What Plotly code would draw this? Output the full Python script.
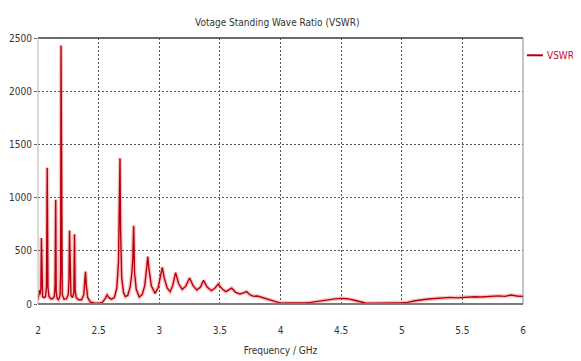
import plotly.graph_objects as go

# Frequency (GHz) and VSWR values
freq_ghz = [
    2.000, 2.008, 2.013, 2.018, 2.024, 2.028, 2.032, 2.038, 2.050, 2.062,
    2.070, 2.076, 2.082, 2.090, 2.105, 2.120, 2.135, 2.141, 2.146, 2.150,
    2.158, 2.170, 2.182, 2.187, 2.190, 2.194, 2.200, 2.215, 2.235, 2.250,
    2.256, 2.260, 2.265, 2.272, 2.285, 2.296, 2.301, 2.306, 2.315, 2.335,
    2.360, 2.378, 2.387, 2.392, 2.398, 2.410, 2.430, 2.460, 2.500, 2.530,
    2.555, 2.570, 2.585, 2.605, 2.630, 2.650, 2.664, 2.672, 2.676, 2.681,
    2.690, 2.705, 2.720, 2.740, 2.760, 2.775, 2.782, 2.789, 2.796, 2.810,
    2.835, 2.860, 2.880, 2.895, 2.905, 2.915, 2.935, 2.965, 2.990, 3.010,
    3.025, 3.040, 3.065, 3.090, 3.110, 3.135, 3.160, 3.190, 3.220, 3.250,
    3.280, 3.310, 3.340, 3.365, 3.395, 3.430, 3.460, 3.487, 3.520, 3.550,
    3.575, 3.597, 3.630, 3.665, 3.695, 3.720, 3.750, 3.780, 3.810, 3.840,
    3.870, 3.910, 3.960, 4.000, 4.050, 4.100, 4.150, 4.200, 4.250, 4.300,
    4.350, 4.400, 4.450, 4.500, 4.550, 4.600, 4.650, 4.700, 4.750, 4.800,
    4.850, 4.900, 4.950, 5.000, 5.050, 5.100, 5.150, 5.200, 5.250, 5.300,
    5.350, 5.400, 5.450, 5.500, 5.550, 5.600, 5.650, 5.700, 5.750, 5.800,
    5.850, 5.900, 5.950, 6.000,
]
vswr = [
    40, 80, 130, 90, 150, 620, 150, 70, 60, 70,
    160, 1280, 160, 70, 50, 50, 70, 180, 980, 120,
    50, 40, 80, 300, 2430, 300, 90, 45, 50, 90,
    250, 690, 200, 80, 60, 110, 655, 130, 60, 40,
    40, 90, 230, 305, 180, 60, 20, 10, 5, 15,
    50, 85, 60, 45, 60, 150, 400, 900, 1370, 700,
    250, 110, 70, 80, 160, 300, 440, 735, 300, 140,
    65, 90, 170, 320, 445, 330, 170, 100, 150, 260,
    345, 250, 150, 115, 170, 295, 190, 138, 170, 245,
    170, 131, 160, 222, 160, 125, 150, 188, 140, 116,
    130, 150, 110, 94, 105, 116, 85, 72, 75, 65,
    50, 38, 18, 8, 10, 8, 10, 10, 15, 25,
    35, 45, 48, 53, 50, 38, 22, 10, 8, 10,
    10, 8, 10, 10, 15, 28, 38, 45, 50, 55,
    58, 62, 58, 63, 62, 68, 66, 70, 68, 76,
    72, 85, 75, 70,
]

series_name = "VSWR"
x_ticks = [2, 2.5, 3, 3.5, 4, 4.5, 5, 5.5, 6]
x_tick_labels = ["2", "2.5", "3", "3.5", "4", "4.5", "5", "5.5", "6"]
y_ticks = [0, 500, 1000, 1500, 2000, 2500]
y_tick_labels = ["0", "500", "1000", "1500", "2000", "2500"]

FONT = "Liberation Sans Narrow, DejaVu Sans Condensed, Arial Narrow, sans-serif"
LINE_COLOR = "#b8000c"

fig = go.Figure()
# soft halo under the line
fig.add_trace(go.Scatter(
    x=freq_ghz, y=vswr, mode="lines", showlegend=False, hoverinfo="skip",
    line=dict(color="rgba(235,90,90,0.35)", width=4),
))
fig.add_trace(go.Scatter(
    x=freq_ghz, y=vswr, mode="lines", name=series_name, showlegend=False,
    line=dict(color=LINE_COLOR, width=1.4),
))

# page body adds an 8px offset; figure sized so the plot area lands where the reference has it
fig.update_layout(
    width=573, height=353,
    margin=dict(l=30, r=58, t=30, b=57, autoexpand=False),
    paper_bgcolor="white", plot_bgcolor="white",
    font=dict(family=FONT, size=10, color="#333333"),
    title=dict(text="Votage Standing Wave Ratio (VSWR)", x=0.47, xanchor="center",
               y=0.958, yanchor="middle", font=dict(family=FONT, size=10, color="#333333")),
    showlegend=False,
    xaxis=dict(
        range=[2, 6], tickvals=x_ticks, ticktext=x_tick_labels,
        showgrid=True, gridcolor="#555555", griddash="2px,2px", gridwidth=1,
        zeroline=False, showline=False, ticks="", ticklabelstandoff=19,
        title=dict(text="Frequency / GHz", standoff=11, font=dict(family=FONT, size=10, color="#333333")),
    ),
    yaxis=dict(
        range=[0, 2500], tickvals=y_ticks, ticktext=y_tick_labels,
        showgrid=True, gridcolor="#555555", griddash="2px,2px", gridwidth=1,
        zeroline=False, showline=False, ticks="outside", ticklen=3, tickcolor="#666666",
    ),
    shapes=[
        dict(type="line", xref="paper", yref="paper", x0=0, x1=1, y0=1, y1=1,
             line=dict(color="#3a3a3a", width=1.5)),
        dict(type="line", xref="paper", yref="paper", x0=0, x1=0, y0=0, y1=1,
             line=dict(color="#b5b5b5", width=1)),
        dict(type="line", xref="paper", yref="paper", x0=1, x1=1, y0=0, y1=1,
             line=dict(color="#8a8a8a", width=1)),
        dict(type="line", xref="paper", yref="paper", x0=0, x1=1, y0=0, y1=0,
             line=dict(color="#7a7a7a", width=2)),
        # legend key line
        dict(type="line", xref="paper", yref="paper", x0=1.008, x1=1.041, y0=0.935, y1=0.935,
             line=dict(color=LINE_COLOR, width=2)),
    ],
    annotations=[
        dict(text=series_name, xref="paper", yref="paper", x=1.045, y=0.935,
             xanchor="left", yanchor="middle", showarrow=False,
             font=dict(family=FONT, size=10, color="#c0101a")),
    ],
)

fig.write_html("out.html")
